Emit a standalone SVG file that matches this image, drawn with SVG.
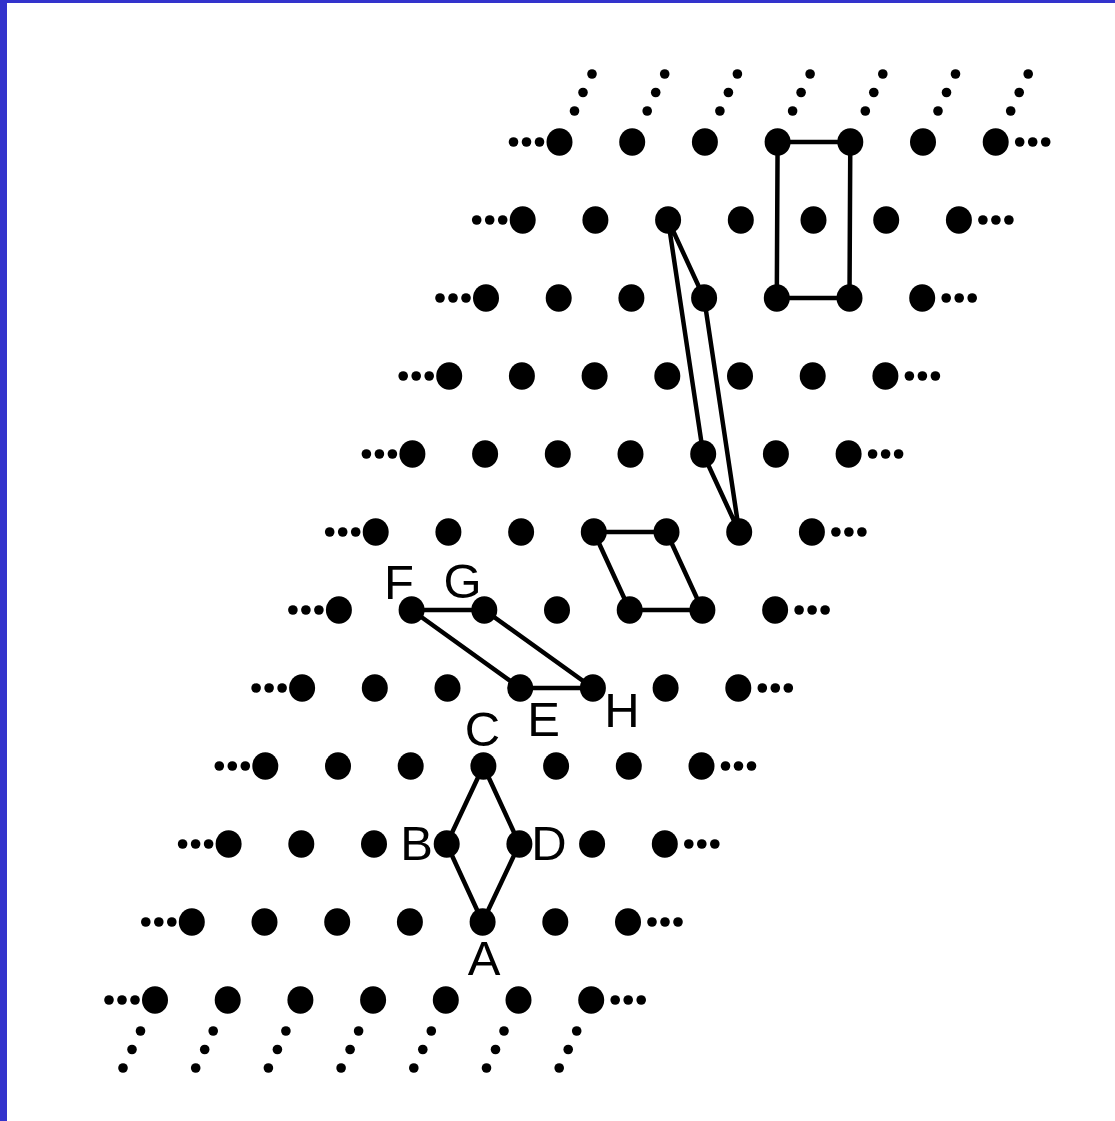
<svg xmlns="http://www.w3.org/2000/svg" xmlns:xlink="http://www.w3.org/1999/xlink" width="1115" height="1121" viewBox="0 0 1115 1121">
<style>
.bg{fill:#ffffff}
.frame{fill:#3333cc}
.dot{fill:#000000}
.edge{fill:none;stroke:#000000;stroke-width:4.5;stroke-linejoin:round}
.lbl{font-family:"Liberation Sans",Arial,sans-serif;font-size:49px;fill:#000000;text-anchor:middle}
</style>
<defs>
<ellipse id="d" cx="0" cy="0" rx="13" ry="13.8" class="dot"/>
<g id="ell" class="dot"><circle cx="0" cy="0" r="4.8"/><circle cx="13" cy="0" r="4.8"/><circle cx="26" cy="0" r="4.8"/></g>
<g id="up" class="dot"><circle cx="15" cy="-31" r="4.8"/><circle cx="23.5" cy="-49.5" r="4.8"/><circle cx="32.5" cy="-68" r="4.8"/></g>
<g id="dn" class="dot"><circle cx="-14.5" cy="31" r="4.8"/><circle cx="-23" cy="49.5" r="4.8"/><circle cx="-32" cy="68" r="4.8"/></g>
</defs>
<rect class="bg" x="0" y="0" width="1115" height="1121"/>
<rect class="frame" x="0" y="0" width="7" height="1121"/>
<rect class="frame" x="0" y="0" width="1115" height="3"/>

<g id="continuation">
<use xlink:href="#up" x="559.5" y="142"/><use xlink:href="#up" x="632.2" y="142"/><use xlink:href="#up" x="704.9" y="142"/><use xlink:href="#up" x="777.6" y="142"/><use xlink:href="#up" x="850.3" y="142"/><use xlink:href="#up" x="923.0" y="142"/><use xlink:href="#up" x="995.7" y="142"/>
<use xlink:href="#dn" x="155.0" y="1000"/><use xlink:href="#dn" x="227.7" y="1000"/><use xlink:href="#dn" x="300.4" y="1000"/><use xlink:href="#dn" x="373.1" y="1000"/><use xlink:href="#dn" x="445.8" y="1000"/><use xlink:href="#dn" x="518.5" y="1000"/><use xlink:href="#dn" x="591.2" y="1000"/>
<use xlink:href="#ell" x="513.5" y="142"/><use xlink:href="#ell" x="1019.7" y="142"/>
<use xlink:href="#ell" x="476.7" y="220"/><use xlink:href="#ell" x="982.9" y="220"/>
<use xlink:href="#ell" x="440.0" y="298"/><use xlink:href="#ell" x="946.2" y="298"/>
<use xlink:href="#ell" x="403.2" y="376"/><use xlink:href="#ell" x="909.4" y="376"/>
<use xlink:href="#ell" x="366.4" y="454"/><use xlink:href="#ell" x="872.6" y="454"/>
<use xlink:href="#ell" x="329.7" y="532"/><use xlink:href="#ell" x="835.9" y="532"/>
<use xlink:href="#ell" x="292.9" y="610"/><use xlink:href="#ell" x="799.1" y="610"/>
<use xlink:href="#ell" x="256.1" y="688"/><use xlink:href="#ell" x="762.3" y="688"/>
<use xlink:href="#ell" x="219.3" y="766"/><use xlink:href="#ell" x="725.5" y="766"/>
<use xlink:href="#ell" x="182.6" y="844"/><use xlink:href="#ell" x="688.8" y="844"/>
<use xlink:href="#ell" x="145.8" y="922"/><use xlink:href="#ell" x="652.0" y="922"/>
<use xlink:href="#ell" x="109.0" y="1000"/><use xlink:href="#ell" x="615.2" y="1000"/>
</g>

<g id="connectors">
<polygon id="rhombus-ABCD" class="edge" points="483.4,766 446.7,844 482.6,922 519.4,844"/>
<polygon id="cell-FGHE" class="edge" points="411.6,610 484.3,610 592.9,688 520.2,688"/>
<polygon id="cell-small" class="edge" points="593.8,532 666.5,532 702.4,610 629.7,610"/>
<polygon id="cell-long" class="edge" points="668.1,220 704.1,298 739.2,532 703.2,454"/>
<polygon id="cell-rect" class="edge" points="777.6,142 850.3,142 849.5,298 776.8,298"/>
</g>

<g id="nodes">
<g id="row0"><use xlink:href="#d" x="559.5" y="142"/><use xlink:href="#d" x="632.2" y="142"/><use xlink:href="#d" x="704.9" y="142"/><use xlink:href="#d" x="777.6" y="142"/><use xlink:href="#d" x="850.3" y="142"/><use xlink:href="#d" x="923.0" y="142"/><use xlink:href="#d" x="995.7" y="142"/></g>
<g id="row1"><use xlink:href="#d" x="522.7" y="220"/><use xlink:href="#d" x="595.4" y="220"/><use xlink:href="#d" x="668.1" y="220"/><use xlink:href="#d" x="740.8" y="220"/><use xlink:href="#d" x="813.5" y="220"/><use xlink:href="#d" x="886.2" y="220"/><use xlink:href="#d" x="958.9" y="220"/></g>
<g id="row2"><use xlink:href="#d" x="486.0" y="298"/><use xlink:href="#d" x="558.7" y="298"/><use xlink:href="#d" x="631.4" y="298"/><use xlink:href="#d" x="704.1" y="298"/><use xlink:href="#d" x="776.8" y="298"/><use xlink:href="#d" x="849.5" y="298"/><use xlink:href="#d" x="922.2" y="298"/></g>
<g id="row3"><use xlink:href="#d" x="449.2" y="376"/><use xlink:href="#d" x="521.9" y="376"/><use xlink:href="#d" x="594.6" y="376"/><use xlink:href="#d" x="667.3" y="376"/><use xlink:href="#d" x="740.0" y="376"/><use xlink:href="#d" x="812.7" y="376"/><use xlink:href="#d" x="885.4" y="376"/></g>
<g id="row4"><use xlink:href="#d" x="412.4" y="454"/><use xlink:href="#d" x="485.1" y="454"/><use xlink:href="#d" x="557.8" y="454"/><use xlink:href="#d" x="630.5" y="454"/><use xlink:href="#d" x="703.2" y="454"/><use xlink:href="#d" x="775.9" y="454"/><use xlink:href="#d" x="848.6" y="454"/></g>
<g id="row5"><use xlink:href="#d" x="375.7" y="532"/><use xlink:href="#d" x="448.4" y="532"/><use xlink:href="#d" x="521.1" y="532"/><use xlink:href="#d" x="593.8" y="532"/><use xlink:href="#d" x="666.5" y="532"/><use xlink:href="#d" x="739.2" y="532"/><use xlink:href="#d" x="811.9" y="532"/></g>
<g id="row6"><use xlink:href="#d" x="338.9" y="610"/><use xlink:href="#d" x="411.6" y="610"/><use xlink:href="#d" x="484.3" y="610"/><use xlink:href="#d" x="557.0" y="610"/><use xlink:href="#d" x="629.7" y="610"/><use xlink:href="#d" x="702.4" y="610"/><use xlink:href="#d" x="775.1" y="610"/></g>
<g id="row7"><use xlink:href="#d" x="302.1" y="688"/><use xlink:href="#d" x="374.8" y="688"/><use xlink:href="#d" x="447.5" y="688"/><use xlink:href="#d" x="520.2" y="688"/><use xlink:href="#d" x="592.9" y="688"/><use xlink:href="#d" x="665.6" y="688"/><use xlink:href="#d" x="738.3" y="688"/></g>
<g id="row8"><use xlink:href="#d" x="265.3" y="766"/><use xlink:href="#d" x="338.0" y="766"/><use xlink:href="#d" x="410.7" y="766"/><use xlink:href="#d" x="483.4" y="766"/><use xlink:href="#d" x="556.1" y="766"/><use xlink:href="#d" x="628.8" y="766"/><use xlink:href="#d" x="701.5" y="766"/></g>
<g id="row9"><use xlink:href="#d" x="228.6" y="844"/><use xlink:href="#d" x="301.3" y="844"/><use xlink:href="#d" x="374.0" y="844"/><use xlink:href="#d" x="446.7" y="844"/><use xlink:href="#d" x="519.4" y="844"/><use xlink:href="#d" x="592.1" y="844"/><use xlink:href="#d" x="664.8" y="844"/></g>
<g id="row10"><use xlink:href="#d" x="191.8" y="922"/><use xlink:href="#d" x="264.5" y="922"/><use xlink:href="#d" x="337.2" y="922"/><use xlink:href="#d" x="409.9" y="922"/><use xlink:href="#d" x="482.6" y="922"/><use xlink:href="#d" x="555.3" y="922"/><use xlink:href="#d" x="628.0" y="922"/></g>
<g id="row11"><use xlink:href="#d" x="155.0" y="1000"/><use xlink:href="#d" x="227.7" y="1000"/><use xlink:href="#d" x="300.4" y="1000"/><use xlink:href="#d" x="373.1" y="1000"/><use xlink:href="#d" x="445.8" y="1000"/><use xlink:href="#d" x="518.5" y="1000"/><use xlink:href="#d" x="591.2" y="1000"/></g>
</g>

<g id="labels">
<text class="lbl" x="399" y="599">F</text>
<text class="lbl" x="462.5" y="598">G</text>
<text class="lbl" x="543.5" y="736">E</text>
<text class="lbl" x="622" y="727">H</text>
<text class="lbl" x="482.5" y="746">C</text>
<text class="lbl" x="416.5" y="860">B</text>
<text class="lbl" x="549" y="860">D</text>
<text class="lbl" x="484" y="975">A</text>
</g>
</svg>
